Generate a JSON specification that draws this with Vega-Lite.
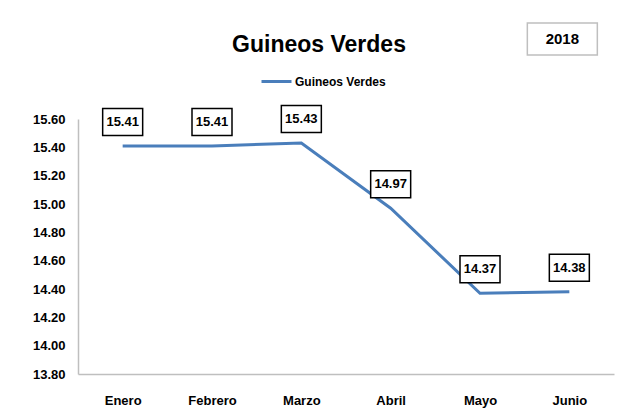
{
  "$schema": "https://vega.github.io/schema/vega-lite/v6.json",
  "width": 536,
  "height": 255,
  "autosize": {"type": "none"},
  "padding": {"left": 78, "top": 119, "right": 12, "bottom": 43},
  "background": "white",
  "config": {
    "view": {"stroke": null},
    "font": "'Liberation Sans Narrow', 'Liberation Sans', sans-serif"
  },
  "title": {
    "text": "Guineos Verdes",
    "fontSize": 23,
    "fontWeight": "bold",
    "color": "black",
    "anchor": "middle",
    "frame": "group",
    "baseline": "alphabetic",
    "dx": -27,
    "offset": -55,
    "font": "'Liberation Sans Narrow', 'Liberation Sans', sans-serif"
  },
  "data": {
    "values": [
      {"mes": "Enero", "precio": 15.41, "serie": "Guineos Verdes"},
      {"mes": "Febrero", "precio": 15.41, "serie": "Guineos Verdes"},
      {"mes": "Marzo", "precio": 15.43, "serie": "Guineos Verdes"},
      {"mes": "Abril", "precio": 14.97, "serie": "Guineos Verdes"},
      {"mes": "Mayo", "precio": 14.37, "serie": "Guineos Verdes"},
      {"mes": "Junio", "precio": 14.38, "serie": "Guineos Verdes"}
    ]
  },
  "encoding": {
    "x": {
      "field": "mes",
      "type": "ordinal",
      "sort": null,
      "scale": {"type": "point", "padding": 0.5},
      "axis": {
        "title": null,
        "labelAngle": 0,
        "ticks": false,
        "domainColor": "#BFBFBF",
        "domainWidth": 1.5,
        "labelFontSize": 13,
        "labelFontWeight": "bold",
        "labelColor": "black",
        "labelPadding": 20,
        "grid": false
      }
    },
    "y": {
      "field": "precio",
      "type": "quantitative",
      "scale": {"domain": [13.8, 15.6], "zero": false, "nice": false},
      "axis": {
        "title": null,
        "values": [13.8, 14.0, 14.2, 14.4, 14.6, 14.8, 15.0, 15.2, 15.4, 15.6],
        "format": ".2f",
        "ticks": false,
        "grid": false,
        "domainColor": "#BFBFBF",
        "domainWidth": 1.5,
        "labelFontSize": 13,
        "labelFontWeight": "bold",
        "labelColor": "black",
        "labelPadding": 13
      }
    }
  },
  "layer": [
    {
      "mark": {"type": "line", "strokeWidth": 3},
      "encoding": {
        "color": {
          "field": "serie",
          "type": "nominal",
          "scale": {"range": ["#4A7EBB"]},
          "legend": {
            "orient": "none",
            "legendX": 182,
            "legendY": -54,
            "title": null,
            "symbolType": "stroke",
            "symbolStrokeWidth": 3,
            "symbolSize": 900,
            "labelFontSize": 12,
            "labelFontWeight": "bold",
            "labelColor": "black",
            "labelOffset": 2,
            "labelFont": "'Liberation Sans Narrow', 'Liberation Sans', sans-serif"
          }
        }
      }
    },
    {
      "mark": {
        "type": "point",
        "shape": "M-1,-0.675L1,-0.675L1,0.675L-1,0.675Z",
        "size": 1600,
        "filled": true,
        "fill": "white",
        "stroke": "black",
        "strokeWidth": 1.5,
        "opacity": 1,
        "yOffset": -24
      }
    },
    {
      "mark": {"type": "text", "fontSize": 13, "fontWeight": "bold", "color": "black", "dy": -24},
      "encoding": {"text": {"field": "precio", "type": "quantitative", "format": ".2f"}}
    },
    {
      "data": {"values": [{"mes": "Junio", "precio": 16.165, "etiqueta": "2018"}]},
      "layer": [
        {
          "mark": {
            "type": "point",
            "shape": "M-1,-0.457L1,-0.457L1,0.457L-1,0.457Z",
            "size": 4900,
            "filled": true,
            "fill": "white",
            "stroke": "#BFBFBF",
            "strokeWidth": 1.5,
            "opacity": 1,
            "xOffset": -7
          }
        },
        {
          "mark": {"type": "text", "fontSize": 15, "fontWeight": "bold", "color": "black", "dx": -7},
          "encoding": {"text": {"field": "etiqueta", "type": "nominal"}}
        }
      ]
    }
  ]
}
